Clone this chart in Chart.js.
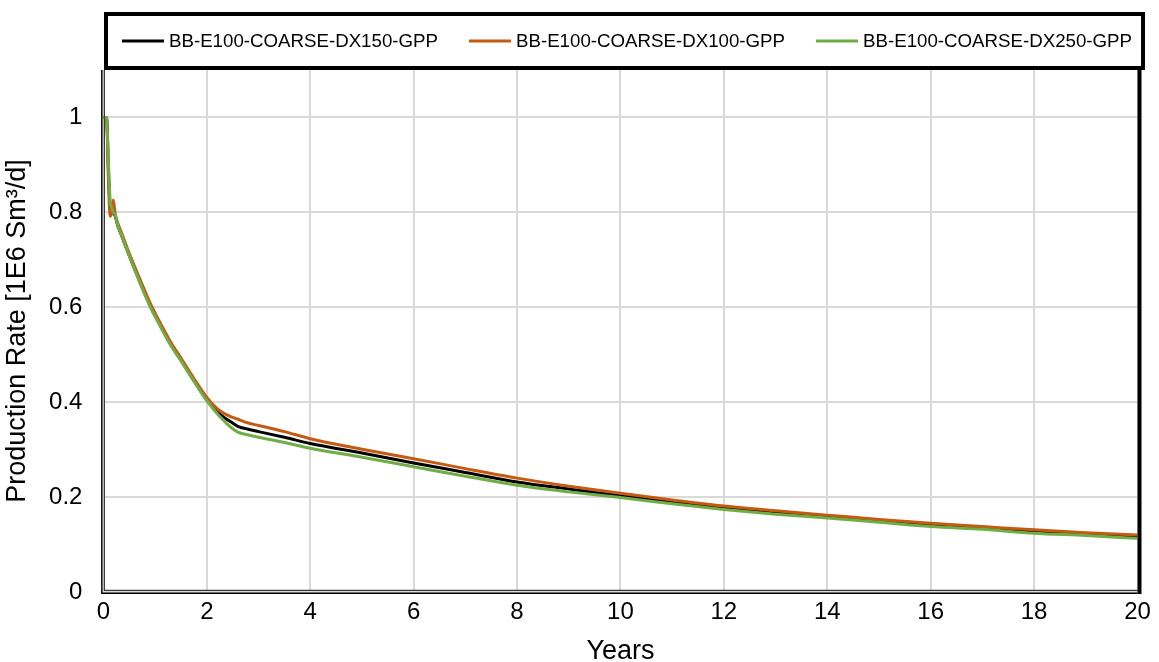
<!DOCTYPE html>
<html>
<head>
<meta charset="utf-8">
<script src="https://cdn.jsdelivr.net/npm/chart.js@4.4.0/dist/chart.umd.min.js"></script>
<style>
  html, body { margin: 0; padding: 0; background: #ffffff; }
  #wrap { width: 1159px; height: 662px; position: relative; }
</style>
</head>
<body>
<div id="wrap"><canvas id="chart" width="1159" height="662"></canvas></div>
<script>
// Simulation time in years (shared sample times for all three runs)
const years = [0, 0.06, 0.1, 0.13, 0.16, 0.19, 0.23, 0.27, 0.35, 0.46, 0.6, 0.75, 0.9, 1.1, 1.3, 1.5, 1.75,
  2.0, 2.25, 2.5, 2.6, 2.8, 3.0, 3.5, 4, 5, 6, 7, 8, 9, 10, 11, 12, 13, 14, 15, 16, 17, 18, 19, 20];

// Gas production rate, 1E6 Sm3/d
const rateDX150 = [1.0, 1.0, 0.88, 0.81, 0.80, 0.798, 0.792, 0.775, 0.752, 0.72, 0.682, 0.642, 0.604, 0.562, 0.522, 0.489, 0.446,
  0.405, 0.375, 0.356, 0.349, 0.343, 0.338, 0.326, 0.313, 0.293, 0.272, 0.252, 0.232, 0.217, 0.203, 0.190, 0.177, 0.167, 0.159, 0.150, 0.142, 0.135, 0.128, 0.122, 0.116];
const rateDX100 = [1.0, 1.0, 0.86, 0.792, 0.80, 0.826, 0.795, 0.78, 0.757, 0.725, 0.687, 0.648, 0.61, 0.567, 0.527, 0.493, 0.45,
  0.41, 0.382, 0.368, 0.364, 0.356, 0.351, 0.338, 0.323, 0.301, 0.281, 0.260, 0.240, 0.223, 0.208, 0.194, 0.181, 0.171, 0.162, 0.153, 0.145, 0.138, 0.131, 0.125, 0.120];
const rateDX250 = [1.0, 1.0, 0.9, 0.825, 0.81, 0.80, 0.795, 0.775, 0.752, 0.72, 0.68, 0.64, 0.602, 0.56, 0.52, 0.487, 0.444,
  0.403, 0.37, 0.344, 0.337, 0.331, 0.326, 0.315, 0.303, 0.284, 0.264, 0.244, 0.225, 0.211, 0.199, 0.186, 0.174, 0.164, 0.156, 0.147, 0.138, 0.132, 0.124, 0.119, 0.113];

const seriesNames = ['BB-E100-COARSE-DX150-GPP', 'BB-E100-COARSE-DX100-GPP', 'BB-E100-COARSE-DX250-GPP'];
const seriesColors = ['#000000', '#C55A11', '#70AD47'];
const yTickValues = [0, 0.2, 0.4, 0.6, 0.8, 1];
const xTickValues = [0, 2, 4, 6, 8, 10, 12, 14, 16, 18, 20];

const FONT = '"Liberation Sans", Arial, sans-serif';

function toPoints(vals) { return years.map((t, i) => ({ x: t, y: vals[i] })); }

// Framed legend strip above the plot
const boxedLegend = {
  id: 'boxedLegend',
  afterDraw(chart) {
    const ctx = chart.ctx;
    ctx.save();
    ctx.strokeStyle = '#000000';
    ctx.lineWidth = 4;
    ctx.strokeRect(106, 14, 1037, 54);
    ctx.font = '18.7px ' + FONT;
    ctx.textBaseline = 'middle';
    const lineLen = 42, gap = 5, startX = 122, endX = 1132, yMid = 41;
    const items = chart.data.datasets.slice().sort((a, b) => a.legendIndex - b.legendIndex);
    const widths = items.map(d => ctx.measureText(d.label).width);
    const used = widths.reduce((s, w) => s + w + lineLen + gap, 0);
    const spacing = (endX - startX - used) / (items.length - 1);
    let x = startX;
    items.forEach((d, i) => {
      ctx.strokeStyle = d.borderColor;
      ctx.lineWidth = 3;
      ctx.beginPath();
      ctx.moveTo(x, yMid);
      ctx.lineTo(x + lineLen, yMid);
      ctx.stroke();
      ctx.fillStyle = '#000000';
      ctx.fillText(d.label, x + lineLen + gap, yMid + 1);
      x += lineLen + gap + widths[i] + spacing;
    });
    ctx.restore();
  }
};

// Plot-area frame: double line on the left and bottom, heavy line on the right
const plotFrame = {
  id: 'plotFrame',
  afterDatasetsDraw(chart) {
    const { ctx, chartArea: a } = chart;
    ctx.save();
    ctx.strokeStyle = '#000000';
    ctx.lineWidth = 1.4;
    ctx.beginPath();
    ctx.moveTo(a.left - 1.6, a.top);
    ctx.lineTo(a.left - 1.6, a.bottom + 1.2);
    ctx.lineTo(a.right, a.bottom + 1.2);
    ctx.stroke();
    ctx.strokeStyle = '#3a3a3a';
    ctx.lineWidth = 1.2;
    ctx.beginPath();
    ctx.moveTo(a.left + 1.0, a.top);
    ctx.lineTo(a.left + 1.0, a.bottom - 1.6);
    ctx.lineTo(a.right, a.bottom - 1.6);
    ctx.stroke();
    ctx.fillStyle = '#000000';
    ctx.fillRect(a.right, a.top - 2, 4, a.bottom - a.top + 4);
    ctx.restore();
  }
};

new Chart(document.getElementById('chart'), {
  type: 'line',
  data: {
    datasets: [
      { label: seriesNames[0], data: toPoints(rateDX150), borderColor: seriesColors[0], order: 2, legendIndex: 0 },
      { label: seriesNames[1], data: toPoints(rateDX100), borderColor: seriesColors[1], order: 1, legendIndex: 1 },
      { label: seriesNames[2], data: toPoints(rateDX250), borderColor: seriesColors[2], order: 0, legendIndex: 2 }
    ].map(d => Object.assign(d, {
      borderWidth: 3, pointRadius: 0, fill: false, tension: 0,
      cubicInterpolationMode: 'monotone', backgroundColor: d.borderColor
    }))
  },
  options: {
    responsive: false,
    animation: false,
    devicePixelRatio: 1,
    layout: { padding: { top: 70, right: 21.5, left: 0, bottom: 0 } },
    plugins: { legend: { display: false }, tooltip: { enabled: false } },
    scales: {
      x: {
        type: 'linear', min: 0, max: 20,
        afterBuildTicks: s => { s.ticks = xTickValues.map(v => ({ value: v })); },
        afterFit: s => { s.height = 70; },
        grid: { color: '#d9d9d9', lineWidth: 2, drawTicks: false },
        border: { display: false },
        ticks: { color: '#000000', font: { family: FONT, size: 24 }, padding: 6, maxRotation: 0,
                 callback: v => String(v) },
        title: { display: true, text: 'Years', color: '#000000', font: { family: FONT, size: 27, lineHeight: 0.8 },
                 padding: { top: 0, bottom: 0 } }
      },
      y: {
        type: 'linear', min: 0, max: 1.1,
        afterBuildTicks: s => { s.ticks = yTickValues.map(v => ({ value: v })); },
        afterFit: s => { s.width = 103.4; },
        grid: { color: '#d9d9d9', lineWidth: 2, drawTicks: false },
        border: { display: false },
        ticks: { color: '#000000', font: { family: FONT, size: 24 }, padding: 21, callback: v => String(v) },
        title: { display: true, text: 'Production Rate [1E6 Sm³/d]', color: '#000000',
                 font: { family: FONT, size: 27, lineHeight: 1.0 }, padding: { top: 4.5, bottom: 0 } }
      }
    }
  },
  plugins: [boxedLegend, plotFrame]
});
</script>
</body>
</html>
